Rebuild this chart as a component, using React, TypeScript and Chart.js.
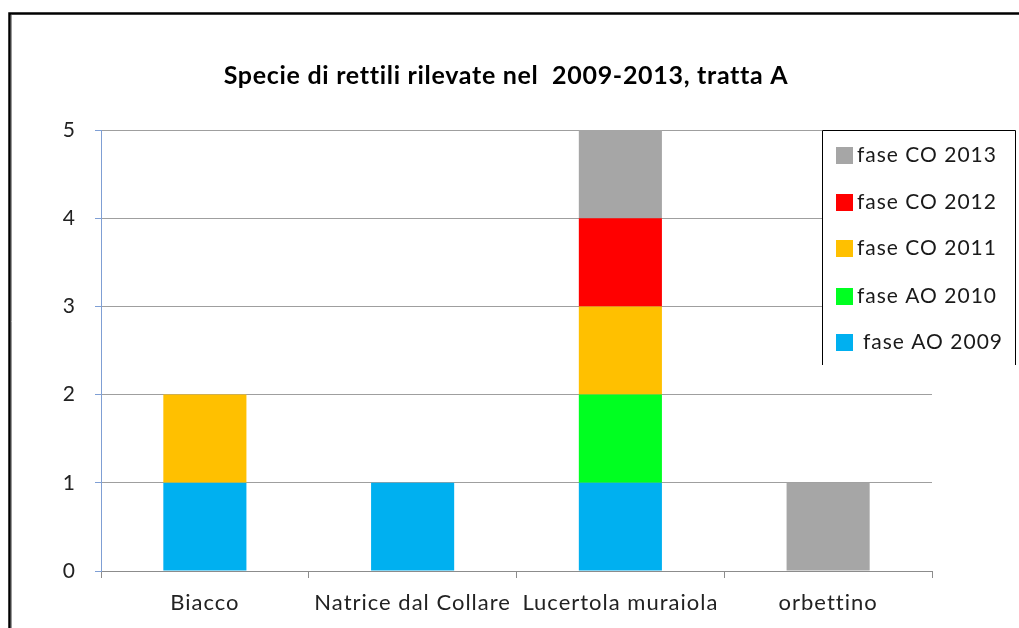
import React, { useEffect, useRef } from "react";
import { Chart, registerables } from "chart.js";

Chart.register(...registerables);

const TITLE = "Specie di rettili rilevate nel  2009-2013, tratta A";
const categories = ["Biacco", "Natrice dal Collare", "Lucertola muraiola", "orbettino"];
const seriesLabels = ["fase AO 2009", "fase AO 2010", "fase CO 2011", "fase CO 2012", "fase CO 2013"];
const seriesColors = ["#00B0F0", "#00FF21", "#FFC000", "#FF0000", "#A6A6A6"];
const ao2009 = [1, 1, 1, 0];
const ao2010 = [0, 0, 1, 0];
const co2011 = [1, 0, 1, 0];
const co2012 = [0, 0, 1, 0];
const co2013 = [0, 0, 1, 1];
const seriesValues = [ao2009, ao2010, co2011, co2012, co2013];
const yTicks = [0, 1, 2, 3, 4, 5];

const FONT = "Lato, 'Open Sans', sans-serif";

const decorPlugin = {
  id: "decor",
  beforeDraw(chart: any) {
    const ctx = chart.ctx;
    ctx.fillStyle = "#ffffff";
    ctx.fillRect(0, 0, chart.width, chart.height);
    ctx.letterSpacing = "1px";
  },
  afterDraw(chart: any) {
    const ctx = chart.ctx;
    ctx.save();
    // frame
    ctx.strokeStyle = "#000000";
    ctx.lineWidth = 2.5;
    ctx.beginPath();
    ctx.moveTo(9.5, chart.height);
    ctx.lineTo(9.5, 13.5);
    ctx.lineTo(chart.width, 13.5);
    ctx.stroke();
    ctx.strokeStyle = "#9a9a9a";
    ctx.lineWidth = 1;
    ctx.beginPath();
    ctx.moveTo(11.5, chart.height);
    ctx.lineTo(11.5, 15);
    ctx.stroke();
    // title
    ctx.fillStyle = "#000000";
    ctx.letterSpacing = "0.7px";
    ctx.font = "bold 25px " + FONT;
    ctx.textAlign = "center";
    ctx.textBaseline = "middle";
    ctx.fillText(TITLE, 506, 76);
    // legend box
    const lx = 822, ly = 130, rx = 1015, by = 365;
    ctx.fillStyle = "#ffffff";
    ctx.fillRect(lx, ly, rx - lx, by - ly);
    ctx.strokeStyle = "#000000";
    ctx.lineWidth = 1;
    ctx.beginPath();
    ctx.moveTo(lx + 0.5, by);
    ctx.lineTo(lx + 0.5, ly + 0.5);
    ctx.lineTo(rx + 0.5, ly + 0.5);
    ctx.lineTo(rx + 0.5, by);
    ctx.stroke();
    const ds = chart.data.datasets;
    const rowY = [342, 296, 248, 202, 155];
    ctx.letterSpacing = "1px";
    ctx.font = "21px " + FONT;
    ctx.textAlign = "left";
    ctx.textBaseline = "middle";
    for (let i = 0; i < ds.length; i++) {
      const y = rowY[i];
      ctx.fillStyle = ds[i].backgroundColor;
      ctx.fillRect(836, y - 8, 17, 17);
      ctx.fillStyle = "#1a1a1a";
      ctx.fillText(ds[i].label, i === 0 ? 863 : 857, y);
    }
    ctx.restore();
  },
};

export default function App() {
  const ref = useRef<HTMLCanvasElement>(null);
  useEffect(() => {
    if (!ref.current) return;
    const chart = new Chart(ref.current, {
      type: "bar",
      data: {
        labels: categories,
        datasets: seriesLabels.map((label, i) => ({
          label,
          data: seriesValues[i],
          backgroundColor: seriesColors[i],
          borderWidth: 0,
          barPercentage: 0.4,
          categoryPercentage: 1,
        })),
      },
      options: {
        responsive: false,
        animation: false,
        layout: { padding: { left: 0, top: 130, right: 87, bottom: 0 } },
        plugins: {
          legend: { display: false },
          title: { display: false },
          tooltip: { enabled: false },
        },
        scales: {
          x: {
            stacked: true,
            grid: {
              display: true,
              drawOnChartArea: false,
              drawTicks: true,
              tickLength: 7,
              tickColor: "#8c8c8c",
              offset: true,
            },
            border: { display: true, color: "#8c8c8c", width: 1 },
            ticks: {
              padding: 12,
              color: "#222222",
              font: { family: FONT, size: 22 },
              maxRotation: 0,
              autoSkip: false,
            },
            afterFit: (s: any) => {
              s.height = 57;
            },
          },
          y: {
            stacked: true,
            min: 0,
            max: 5,
            afterBuildTicks: (s: any) => {
              s.ticks = yTicks.map((v) => ({ value: v }));
            },
            grid: {
              color: "#9f9f9f",
              tickLength: 6,
              tickColor: "#7f9fd4",
              drawTicks: true,
            },
            border: { display: true, color: "#7f9fd4", width: 1 },
            ticks: {
              padding: 19,
              color: "#222222",
              font: { family: FONT, size: 21 },
            },
            afterFit: (s: any) => {
              s.width = 101;
            },
          },
        },
      },
      plugins: [decorPlugin],
    });
    return () => chart.destroy();
  }, []);
  return (
    <div style={{ position: "absolute", left: 0, top: 0, width: 1019, height: 628 }}>
      <canvas ref={ref} width={1019} height={628} />
    </div>
  );
}
